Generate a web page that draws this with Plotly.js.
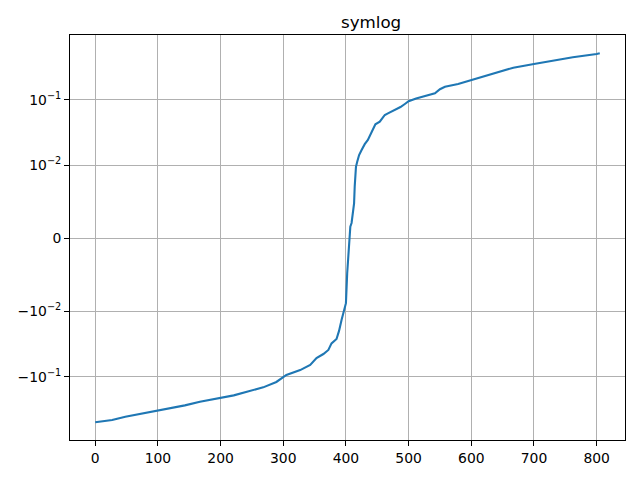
<!DOCTYPE html>
<html>
<head>
<meta charset="utf-8">
<script src="https://cdn.plot.ly/plotly-3.0.1.min.js"></script>
<style>html,body{margin:0;padding:0;background:#fff;}#chart{width:640px;height:480px;}</style>
</head>
<body>
<div id="chart"></div>
<script>
// Sample index (sorted order)
const xIndex = [0, 27, 48, 69, 101, 122, 143, 167, 199, 221, 242, 268, 289, 295, 305, 327, 343, 353, 364, 372, 377, 385, 389, 393, 397, 400, 402, 404, 405, 407, 409, 411, 413, 414, 416, 418, 421, 425, 430, 435, 441, 447, 454, 462, 467, 478, 487, 494, 500, 512, 528, 542, 550, 558, 579, 592, 601, 613, 640, 667, 700, 730, 762, 800, 805];
// Value minus mean
const yValue = [-0.494, -0.456, -0.406, -0.373, -0.330, -0.302, -0.273, -0.240, -0.211, -0.192, -0.169, -0.145, -0.120, -0.109, -0.094, -0.079, -0.066, -0.052, -0.045, -0.039, -0.031, -0.0265, -0.020, -0.0136, -0.0102, -0.0089, -0.0048, -0.0025, -0.0002, 0.0016, 0.0021, 0.0034, 0.0048, 0.0071, 0.0098, 0.0114, 0.0144, 0.0172, 0.0211, 0.0244, 0.0327, 0.0424, 0.0463, 0.0587, 0.0622, 0.070, 0.0775, 0.0863, 0.095, 0.105, 0.116, 0.126, 0.145, 0.158, 0.174, 0.189, 0.200, 0.220, 0.259, 0.309, 0.352, 0.394, 0.445, 0.499, 0.512];
const yTickValues = [-0.1, -0.01, 0, 0.01, 0.1];
const yTickLabels = ['\u221210<sup>\u22121</sup>', '\u221210<sup>\u22122</sup>', '0', '10<sup>\u22122</sup>', '10<sup>\u22121</sup>'];
const xTickValues = [0, 100, 200, 300, 400, 500, 600, 700, 800];

// symmetric log scale, linthresh 0.01, base 10, linscale 1
const LINTHRESH = 0.01;
const LINSCALE_ADJ = 1 / (1 - 1 / 10);
function symlog(v) {
  const a = Math.abs(v);
  if (a <= LINTHRESH) return v / LINTHRESH * LINSCALE_ADJ;
  return Math.sign(v) * (LINSCALE_ADJ + Math.log10(a / LINTHRESH));
}

const yT = yValue.map(symlog);
const font = {family: 'DejaVu Sans, sans-serif', size: 13.9, color: '#000'};

const trace = {
  x: xIndex, y: yT, customdata: yValue,
  type: 'scatter', mode: 'lines',
  line: {color: '#1f77b4', width: 2.1},
  hovertemplate: '%{x}: %{customdata}<extra></extra>'
};

const layout = {
  width: 640, height: 480,
  paper_bgcolor: '#fff', plot_bgcolor: '#fff',
  margin: {l: 70, r: 15, t: 35, b: 40},
  showlegend: false,
  font: font,
  title: {text: 'symlog', font: {family: 'DejaVu Sans, sans-serif', size: 16.7, color: '#000'},
          x: 0.5425, xanchor: 'center', y: 1 - 22/480, yanchor: 'middle', xref: 'paper', yref: 'container'},
  xaxis: {
    range: [-40.25, 845.25], tickvals: xTickValues, ticktext: xTickValues.map(String),
    showgrid: true, gridcolor: '#b0b0b0', gridwidth: 1, zeroline: false,
    showline: true, linecolor: '#000', linewidth: 1, mirror: true,
    ticks: 'outside', ticklen: 5, tickwidth: 1, tickcolor: '#000', tickfont: font
  },
  yaxis: {
    range: [-3.075, 3.099], tickvals: yTickValues.map(symlog), ticktext: yTickLabels,
    showgrid: true, gridcolor: '#b0b0b0', gridwidth: 1, zeroline: false,
    showline: true, linecolor: '#000', linewidth: 1, mirror: true,
    ticks: 'outside', ticklen: 5, tickwidth: 1, tickcolor: '#000', tickfont: font
  }
};

Plotly.newPlot('chart', [trace], layout, {displayModeBar: false, staticPlot: true});
</script>
</body>
</html>
